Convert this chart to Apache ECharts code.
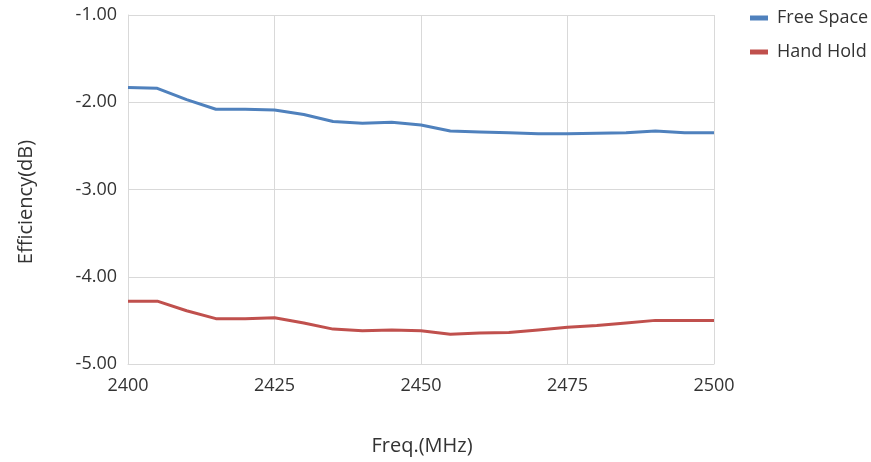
<!DOCTYPE html>
<html>
<head>
<meta charset="utf-8">
<script src="https://cdn.jsdelivr.net/npm/echarts@6/dist/echarts.min.js"></script>
<style>html,body{margin:0;padding:0;background:#fff}#c{width:871px;height:462px}</style>
</head>
<body>
<div id="c"></div>
<script>
const freqs = [2400,2405,2410,2415,2420,2425,2430,2435,2440,2445,2450,2455,2460,2465,2470,2475,2480,2485,2490,2495,2500];
const freeSpace = [-1.83,-1.84,-1.97,-2.08,-2.08,-2.09,-2.14,-2.22,-2.24,-2.23,-2.26,-2.33,-2.34,-2.35,-2.36,-2.36,-2.355,-2.35,-2.33,-2.35,-2.35];
const handHold = [-4.28,-4.28,-4.39,-4.48,-4.48,-4.47,-4.53,-4.60,-4.62,-4.61,-4.62,-4.66,-4.645,-4.64,-4.61,-4.58,-4.56,-4.53,-4.50,-4.50,-4.50];
const seriesNames = ['Free Space','Hand Hold'];
const xTitle = 'Freq.(MHz)';
const yTitle = 'Efficiency(dB)';

const font = '"Open Sans", "Noto Sans", sans-serif';
const txt = '#333333';
const chart = echarts.init(document.getElementById('c'));
chart.setOption({
  animation:false,
  textStyle:{fontFamily:font},
  grid:{left:128,right:157,top:15,bottom:98},
  legend:{
    orient:'vertical', left:745, top:4, itemGap:16,
    icon:'rect', itemWidth:18, itemHeight:5,
    textStyle:{fontFamily:font,fontSize:18,color:txt,padding:[0,0,0,4]},
    data:seriesNames
  },
  graphic:[
    {type:'text', x:422, y:446, style:{text:xTitle, fontFamily:font, fontSize:20, fill:txt, align:'center', verticalAlign:'middle'}},
    {type:'text', x:26, y:202, rotation:Math.PI/2, style:{text:yTitle, fontFamily:font, fontSize:20, fill:txt, align:'center', verticalAlign:'middle'}}
  ],
  xAxis:{
    type:'value', min:2400, max:2500, interval:25,
    axisLine:{show:true,lineStyle:{color:'#d9d9d9'}},
    axisTick:{show:false},
    axisLabel:{fontFamily:font,fontSize:18,color:txt,margin:13,formatter:v=>String(v)},
    splitLine:{show:true,lineStyle:{color:'#d9d9d9',width:1}}
  },
  yAxis:{
    type:'value', min:-5, max:-1, interval:1,
    axisLine:{show:true,lineStyle:{color:'#d9d9d9'}},
    axisTick:{show:false},
    axisLabel:{fontFamily:font,fontSize:18,color:txt,margin:11,formatter:v=>v.toFixed(2)},
    splitLine:{show:true,lineStyle:{color:'#d9d9d9',width:1}}
  },
  series:[
    {name:seriesNames[0],type:'line',data:freqs.map((f,i)=>[f,freeSpace[i]]),showSymbol:false,symbol:'none',
     lineStyle:{color:'#4f81bd',width:3},itemStyle:{color:'#4f81bd'}},
    {name:seriesNames[1],type:'line',data:freqs.map((f,i)=>[f,handHold[i]]),showSymbol:false,symbol:'none',
     lineStyle:{color:'#c0504d',width:3},itemStyle:{color:'#c0504d'}}
  ]
});
</script>
</body>
</html>
